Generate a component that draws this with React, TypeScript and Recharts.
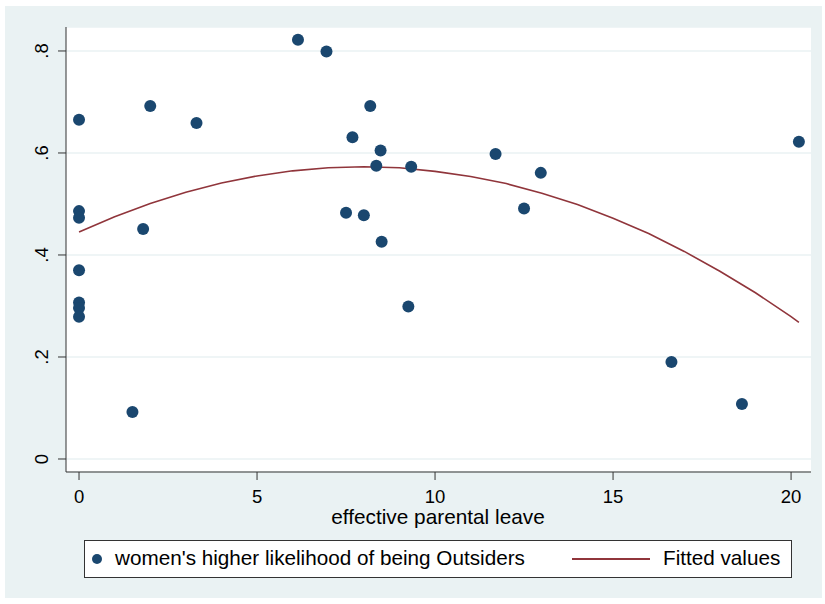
import React from "react";
import { ScatterChart, Scatter, XAxis, YAxis, CartesianGrid } from "recharts";

// effective parental leave (x) vs women's higher likelihood of being Outsiders (y)
const leave = [0, 0, 0, 0, 0, 0, 0, 1.5, 1.8, 2.0, 3.3, 6.15, 6.95, 7.5, 7.68, 8.0, 8.18, 8.35, 8.47, 8.5, 9.25, 9.33, 11.7, 12.5, 12.97, 16.64, 18.62, 20.22];
const likelihood = [0.665, 0.486, 0.473, 0.37, 0.307, 0.296, 0.279, 0.092, 0.451, 0.692, 0.659, 0.822, 0.799, 0.483, 0.631, 0.478, 0.692, 0.575, 0.605, 0.426, 0.299, 0.573, 0.598, 0.491, 0.561, 0.19, 0.108, 0.622];

// fitted values
const fitX = [0, 1, 2, 3, 4, 5, 6, 7, 8, 9, 10, 11, 12, 13, 14, 15, 16, 17, 18, 19, 20, 20.22];
const fitY = [0.445, 0.475, 0.501, 0.523, 0.541, 0.555, 0.565, 0.571, 0.573, 0.571, 0.564, 0.554, 0.54, 0.521, 0.499, 0.472, 0.442, 0.407, 0.368, 0.326, 0.279, 0.268];

const xTicks = [0, 5, 10, 15, 20];
const yTicks = [0, 0.2, 0.4, 0.6, 0.8];
const yTickLabels = ["0", ".2", ".4", ".6", ".8"];

const points = leave.map((x, i) => ({ x, y: likelihood[i] }));
const fitted = fitX.map((x, i) => ({ x, y: fitY[i] }));

const NAVY = "#1a476f";
const MAROON = "#90353b";
const BG = "#eaf2f3";
const AXIS = "#333333";
const FONT = "'Liberation Sans', Arial, sans-serif";

const YTick = (props: any) => {
  const { x, y, index } = props;
  const bx = x - 8;
  return (
    <text
      x={bx}
      y={y}
      transform={`rotate(-90, ${bx}, ${y})`}
      textAnchor="middle"
      fontSize={18.5}
      fill="#000"
      fontFamily={FONT}
    >
      {yTickLabels[index]}
    </text>
  );
};

const XTick = (props: any) => {
  const { x, y, payload } = props;
  return (
    <text x={x} y={y + 21} textAnchor="middle" fontSize={18.5} fill="#000" fontFamily={FONT}>
      {payload.value}
    </text>
  );
};

const App = () => {
  return (
    <div style={{ position: "absolute", left: 0, top: 0, width: 825, height: 604, background: "#fff", fontFamily: FONT }}>
      <div style={{ position: "absolute", left: 5, top: 6, width: 817, height: 592, background: BG }} />
      <div style={{ position: "absolute", left: 0, top: 0 }}>
        <ScatterChart width={825} height={604} margin={{ top: 27, right: 14, left: 0, bottom: 92 }}>
          <CartesianGrid vertical={false} stroke={BG} strokeWidth={1.5} fill="#fff" />
          <XAxis
            type="number"
            dataKey="x"
            domain={[-0.366, 20.56]}
            ticks={xTicks}
            allowDataOverflow
            height={40}
            stroke={AXIS}
            tickSize={8}
            tick={<XTick />}
          />
          <YAxis
            type="number"
            dataKey="y"
            domain={[-0.0255, 0.847]}
            ticks={yTicks}
            allowDataOverflow
            width={66}
            stroke={AXIS}
            tickSize={8}
            tick={<YTick />}
          />
          <Scatter
            data={fitted}
            line={{ stroke: MAROON, strokeWidth: 1.6 }}
            shape={() => null}
            isAnimationActive={false}
          />
          <Scatter
            data={points}
            fill={NAVY}
            isAnimationActive={false}
            shape={(p: any) => <circle cx={p.cx} cy={p.cy} r={6} fill={NAVY} />}
          />
        </ScatterChart>
      </div>
      <div
        style={{
          position: "absolute",
          left: 438 - 150,
          width: 300,
          top: 505,
          textAlign: "center",
          fontSize: 20.8,
          color: "#000",
        }}
      >
        effective parental leave
      </div>
      <div
        style={{
          position: "absolute",
          left: 84,
          top: 540,
          width: 706,
          height: 36,
          background: "#fff",
          border: "1px solid #333",
        }}
      >
        <div style={{ position: "absolute", left: 7, top: 13, width: 10, height: 10, borderRadius: 5, background: NAVY }} />
        <div style={{ position: "absolute", left: 30, top: 5, fontSize: 20.7, whiteSpace: "nowrap", color: "#000" }}>
          women's higher likelihood of being Outsiders
        </div>
        <div style={{ position: "absolute", left: 487, top: 17, width: 78, height: 2, background: MAROON }} />
        <div style={{ position: "absolute", left: 578, top: 5, fontSize: 20.7, whiteSpace: "nowrap", color: "#000" }}>
          Fitted values
        </div>
      </div>
    </div>
  );
};

export default App;
